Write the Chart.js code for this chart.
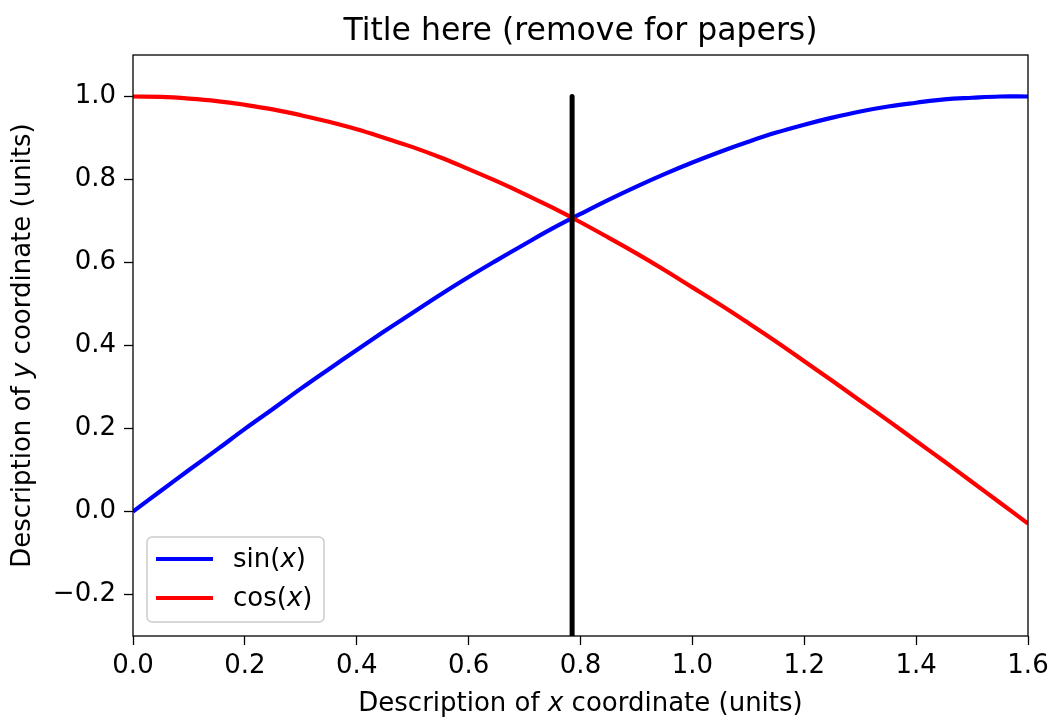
<!DOCTYPE html>
<html>
<head>
<meta charset="utf-8">
<script src="https://cdn.jsdelivr.net/npm/chart.js@4"></script>
<style>
  html, body { margin: 0; padding: 0; background: #fff; }
  #wrap { width: 1049px; height: 718px; }
</style>
</head>
<body>
<div id="wrap"><canvas id="plot" width="1049" height="718"></canvas></div>
<script>
// values
const xValues = [0.00, 0.05, 0.10, 0.15, 0.20, 0.25, 0.30, 0.35, 0.40, 0.45, 0.50, 0.55, 0.60, 0.65, 0.70, 0.75,
                 0.80, 0.85, 0.90, 0.95, 1.00, 1.05, 1.10, 1.15, 1.20, 1.25, 1.30, 1.35, 1.40, 1.45, 1.50, 1.55, 1.60];
const sinValues = [0.000, 0.050, 0.100, 0.149, 0.199, 0.247, 0.296, 0.343, 0.389, 0.435, 0.479, 0.523, 0.565, 0.605, 0.644, 0.682,
                   0.717, 0.751, 0.783, 0.813, 0.841, 0.867, 0.891, 0.913, 0.932, 0.949, 0.964, 0.976, 0.985, 0.993, 0.997, 1.000, 1.000];
const cosValues = [1.000, 0.999, 0.995, 0.989, 0.980, 0.969, 0.955, 0.939, 0.921, 0.900, 0.878, 0.853, 0.825, 0.796, 0.765, 0.732,
                   0.697, 0.660, 0.622, 0.582, 0.540, 0.498, 0.454, 0.409, 0.362, 0.315, 0.267, 0.219, 0.170, 0.121, 0.071, 0.021, -0.029];
// vertical marker at x = 0.785, from 1.0 down through 0 to the bottom of the axes
const markerX = [0.785, 0.785, 0.785];
const markerY = [1.0, 0.0, -0.3];

const xTicks = [0.0, 0.2, 0.4, 0.6, 0.8, 1.0, 1.2, 1.4, 1.6];
const xTickLabels = ['0.0', '0.2', '0.4', '0.6', '0.8', '1.0', '1.2', '1.4', '1.6'];
const yTicks = [-0.2, 0.0, 0.2, 0.4, 0.6, 0.8, 1.0];
const yTickLabels = ['\u22120.2', '0.0', '0.2', '0.4', '0.6', '0.8', '1.0'];

const seriesNames = [['sin(', 'x', ')'], ['cos(', 'x', ')']];
const seriesColors = ['#0000ff', '#ff0000'];
const titleText = 'Title here (remove for papers)';
const xLabelParts = ['Description of ', 'x', ' coordinate (units)'];
const yLabelParts = ['Description of ', 'y', ' coordinate (units)'];

const FONT = '"DejaVu Sans", sans-serif';

// text with an italic middle part, like matplotlib mathtext
function richParts(ctx, parts, size) {
    const fonts = parts.map((_, i) => (i === 1 ? 'italic ' : '') + size + 'px ' + FONT);
    const widths = parts.map((p, i) => { ctx.font = fonts[i]; return ctx.measureText(p).width; });
    return { fonts, widths, total: widths.reduce((a, b) => a + b, 0) };
}
function drawRich(ctx, parts, x, y, size, align) {
    const m = richParts(ctx, parts, size);
    let cx = align === 'left' ? x : x - m.total / 2;
    ctx.textAlign = 'left';
    parts.forEach((p, i) => {
        ctx.font = m.fonts[i];
        ctx.fillText(p, cx, y);
        cx += m.widths[i];
    });
}

const decorations = {
    id: 'decorations',
    afterDraw(chart) {
        const ctx = chart.ctx;
        const a = chart.chartArea;
        ctx.save();
        // frame
        ctx.strokeStyle = '#000';
        ctx.lineWidth = 1.3;
        ctx.strokeRect(a.left, a.top, a.right - a.left, a.bottom - a.top);

        ctx.fillStyle = '#000';
        // title
        ctx.font = '31.5px ' + FONT;
        ctx.textAlign = 'center';
        ctx.textBaseline = 'alphabetic';
        ctx.fillText(titleText, (a.left + a.right) / 2, 40);

        // axis labels
        ctx.textBaseline = 'middle';
        drawRich(ctx, xLabelParts, (a.left + a.right) / 2, 704, 26, 'center');
        ctx.save();
        ctx.translate(23, (a.top + a.bottom) / 2);
        ctx.rotate(-Math.PI / 2);
        drawRich(ctx, yLabelParts, 0, 0, 26, 'center');
        ctx.restore();

        // legend box
        const bx = 147, by = 537, bw = 177, bh = 85, r = 5;
        ctx.beginPath();
        ctx.roundRect(bx, by, bw, bh, r);
        ctx.fillStyle = 'rgba(255,255,255,0.8)';
        ctx.fill();
        ctx.strokeStyle = '#cccccc';
        ctx.lineWidth = 1.5;
        ctx.stroke();
        const rowsY = [559, 598];
        seriesNames.forEach((parts, i) => {
            ctx.strokeStyle = seriesColors[i];
            ctx.lineWidth = 4;
            ctx.beginPath();
            ctx.moveTo(156, rowsY[i]);
            ctx.lineTo(213, rowsY[i]);
            ctx.stroke();
            ctx.fillStyle = '#000';
            ctx.textBaseline = 'middle';
            drawRich(ctx, parts, 233, rowsY[i] + 1, 26, 'left');
        });
        ctx.restore();
    }
};

const pts = (xs, ys) => xs.map((x, i) => ({ x, y: ys[i] }));

new Chart(document.getElementById('plot'), {
    type: 'line',
    data: {
        datasets: [
            { data: pts(xValues, sinValues), borderColor: seriesColors[0], borderWidth: 4.2,
              pointRadius: 0, tension: 0.4, order: 2 },
            { data: pts(xValues, cosValues), borderColor: seriesColors[1], borderWidth: 4.2,
              pointRadius: 0, tension: 0.4, order: 1 },
            { data: pts(markerX, markerY), borderColor: '#000000', borderWidth: 5,
              borderCapStyle: 'round', pointRadius: 0, tension: 0, clip: 0, order: 0 }
        ]
    },
    options: {
        responsive: false,
        animation: false,
        devicePixelRatio: 1,
        layout: { padding: { top: 55, right: 21, left: 0, bottom: 0 } },
        plugins: { legend: { display: false }, tooltip: { enabled: false } },
        scales: {
            x: {
                type: 'linear', min: 0, max: 1.6,
                afterBuildTicks: s => { s.ticks = xTicks.map(v => ({ value: v })); },
                afterFit: s => { s.height = 82; s.paddingLeft = 0; s.paddingRight = 0; },
                grid: { drawOnChartArea: false, drawTicks: true, tickLength: 9, tickColor: '#000', tickWidth: 1.3 },
                border: { display: false },
                ticks: {
                    color: '#000', padding: 6, maxRotation: 0, autoSkip: false,
                    font: { family: FONT, size: 26 },
                    callback: (v, i) => xTickLabels[i]
                }
            },
            y: {
                type: 'linear', min: -0.3, max: 1.1,
                afterBuildTicks: s => { s.ticks = yTicks.map(v => ({ value: v })); },
                afterFit: s => { s.width = 133; s.paddingTop = 0; s.paddingBottom = 0; },
                grid: { drawOnChartArea: false, drawTicks: true, tickLength: 9, tickColor: '#000', tickWidth: 1.3 },
                border: { display: false },
                ticks: {
                    color: '#000', padding: 8, autoSkip: false,
                    font: { family: FONT, size: 26 },
                    callback: (v, i) => yTickLabels[i]
                }
            }
        }
    },
    plugins: [decorations]
});
</script>
</body>
</html>
